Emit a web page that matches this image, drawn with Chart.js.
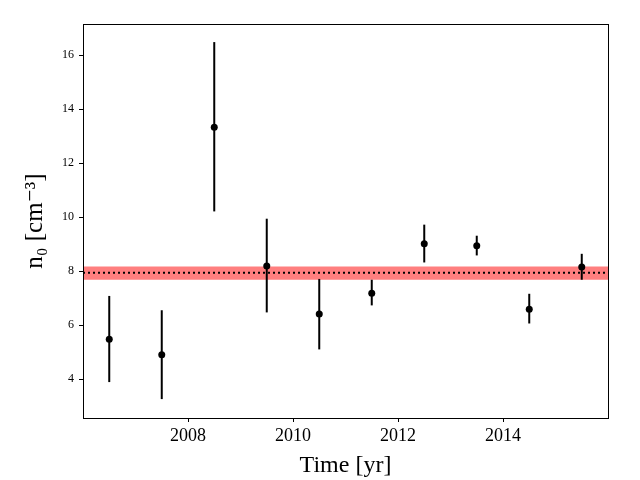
<!DOCTYPE html>
<html lang="en">
<head>
  <meta charset="UTF-8">
  <title>n0 vs time</title>
  <script src="https://cdn.jsdelivr.net/npm/chart.js"></script>
  <style>
    html, body { margin: 0; padding: 0; background: #fff; }
    #wrap { width: 640px; height: 480px; }
  </style>
</head>
<body>
  <div id="wrap"><canvas id="n0Chart" width="640" height="480"></canvas></div>

  <script>
    // data
    const years  = [2006.5, 2007.5, 2008.5, 2009.5, 2010.5, 2011.5, 2012.5, 2013.5, 2014.5, 2015.5];
    const n0     = [5.48, 4.90, 13.33, 8.19, 6.41, 7.18, 9.01, 8.94, 6.59, 8.15];
    const n0Hi   = [7.08, 6.55, 16.48, 9.94, 7.71, 7.68, 9.72, 9.31, 7.16, 8.64];
    const n0Lo   = [3.89, 3.26, 10.21, 6.47, 5.10, 6.73, 8.32, 8.58, 6.06, 7.68];
    const meanN0 = 7.94;
    const bandHi = 8.17;
    const bandLo = 7.68;
    const xRange = [2006, 2016];
    const yRange = [2.56, 17.15];
    const xTicks = [2008, 2010, 2012, 2014];
    const yTicks = [4, 6, 8, 10, 12, 14, 16];

    const serif = "'Liberation Serif', 'DejaVu Serif', serif";

    // 1) error bars, drawn just before the points
    const errorBars = {
      id: 'errorBars',
      beforeDatasetDraw(chart, args) {
        if (args.index !== 3) return;
        const { ctx, scales: { x, y } } = chart;
        ctx.save();
        ctx.strokeStyle = '#000';
        ctx.lineWidth = 2;
        years.forEach((yr, i) => {
          const px = x.getPixelForValue(yr);
          ctx.beginPath();
          ctx.moveTo(px, y.getPixelForValue(n0Lo[i]));
          ctx.lineTo(px, y.getPixelForValue(n0Hi[i]));
          ctx.stroke();
        });
        ctx.restore();
      }
    };

    // 2) frame around the plot area
    const frame = {
      id: 'frame',
      afterDraw(chart) {
        const { ctx, chartArea: a } = chart;
        ctx.save();
        ctx.strokeStyle = '#000';
        ctx.lineWidth = 1;
        ctx.strokeRect(Math.round(a.left) + 0.5, Math.round(a.top) + 0.5,
                       Math.round(a.right - a.left), Math.round(a.bottom - a.top));
        ctx.restore();
      }
    };

    const ctx = document.getElementById('n0Chart').getContext('2d');
    new Chart(ctx, {
      type: 'scatter',
      data: {
        datasets: [
          { // band upper
            type: 'line', order: 3,
            data: xRange.map(v => ({ x: v, y: bandHi })),
            borderWidth: 0, pointRadius: 0, fill: false
          },
          { // band lower, filled to upper
            type: 'line', order: 3,
            data: xRange.map(v => ({ x: v, y: bandLo })),
            borderWidth: 0, pointRadius: 0,
            fill: '-1', backgroundColor: 'rgba(255,0,0,0.5)'
          },
          { // mean
            type: 'line', order: 2,
            data: xRange.map(v => ({ x: v, y: meanN0 })),
            borderColor: '#000', borderWidth: 2, borderDash: [2, 3],
            pointRadius: 0, fill: false
          },
          { // measurements
            order: 1,
            data: years.map((yr, i) => ({ x: yr, y: n0[i] })),
            backgroundColor: '#000', borderColor: '#000',
            pointRadius: 3.5, pointBorderWidth: 0
          }
        ]
      },
      options: {
        responsive: false,
        animation: false,
        plugins: { legend: { display: false }, tooltip: { enabled: false } },
        layout: { padding: { left: 0, right: 32, top: 24, bottom: 0 } },
        scales: {
          x: {
            type: 'linear', min: xRange[0], max: xRange[1],
            afterBuildTicks: axis => { axis.ticks = xTicks.map(v => ({ value: v })); },
            afterFit: axis => { axis.height = 62; },
            grid: { drawOnChartArea: false, drawTicks: true, tickLength: 4, color: '#000' },
            border: { display: false },
            ticks: { color: '#000', padding: 3, maxRotation: 0,
                     font: { family: serif, size: 18 },
                     callback: v => String(v) },
            title: { display: true, text: 'Time [yr]', color: '#000',
                     font: { family: serif, size: 24 }, padding: { top: 0, bottom: 0 } }
          },
          y: {
            type: 'linear', min: yRange[0], max: yRange[1],
            afterBuildTicks: axis => { axis.ticks = yTicks.map(v => ({ value: v })); },
            afterFit: axis => { axis.width = 83; },
            grid: { drawOnChartArea: false, drawTicks: true, tickLength: 4, color: '#000' },
            border: { display: false },
            ticks: { color: '#000', padding: 5,
                     font: { family: serif, size: 12 } },
            title: { display: true, text: 'n₀ [cm⁻³]', color: '#000',
                     font: { family: serif, size: 25 }, padding: { top: 20, bottom: 0 } }
          }
        }
      },
      plugins: [errorBars, frame]
    });
  </script>
</body>
</html>
